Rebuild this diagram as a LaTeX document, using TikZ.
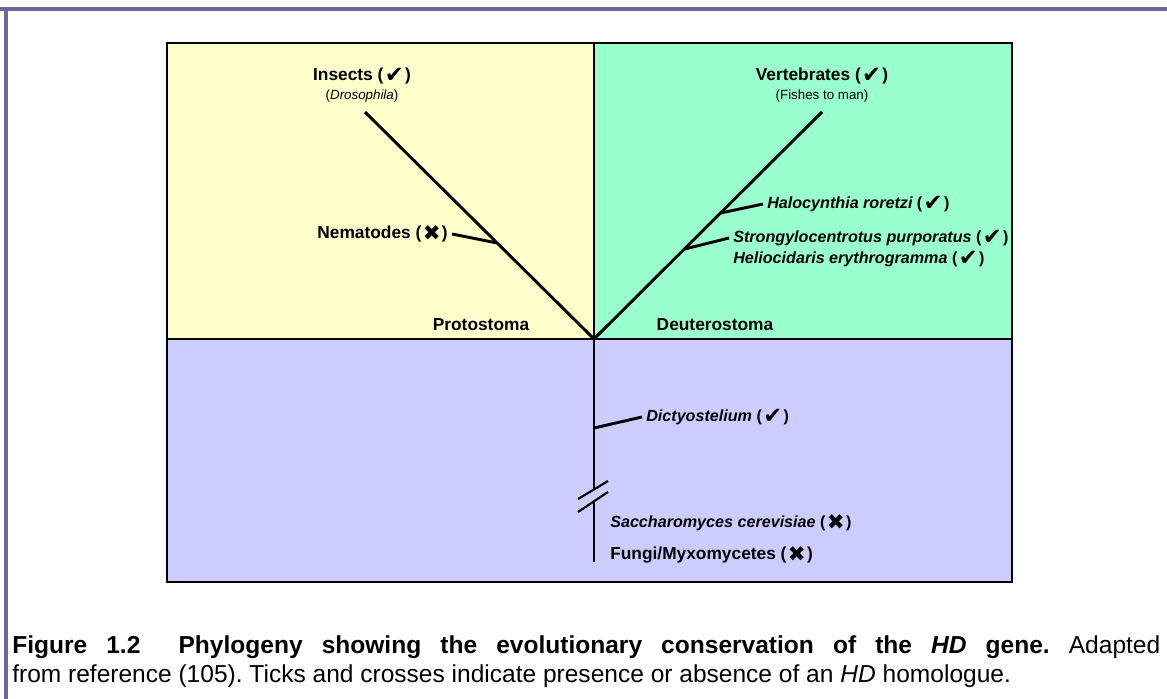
\documentclass[tikz,border=0pt]{standalone}
\usepackage{fontspec}
\setmainfont{Liberation Sans}
\newfontfamily\dingfont{DejaVu Sans}
\usetikzlibrary{calc}

\definecolor{protoyellow}{HTML}{FFFFCC}
\definecolor{deuterogreen}{HTML}{99FFCC}
\definecolor{rootblue}{HTML}{CCCCFF}
\definecolor{framepurple}{HTML}{68689C}
\newcommand{\tickmark}{{\upshape(\kern1pt\raisebox{-1.2pt}{\dingfont\fontsize{17}{17}\selectfont\symbol{"2714}}\kern1pt)}}
\newcommand{\crossmark}{{\upshape(\kern1pt\raisebox{-1.2pt}{\dingfont\fontsize{16}{16}\selectfont\symbol{"2716}}\kern1pt)}}

\begin{document}
\begin{tikzpicture}[x=0.75pt,y=-0.75pt,
    branch/.style={line width=2.2pt},
    taxon/.style={font=\fontsize{13}{15}\selectfont\bfseries,inner sep=3pt},
    species/.style={font=\fontsize{12.1}{15}\selectfont\bfseries\itshape,inner sep=3pt,anchor=west},
    note/.style={font=\fontsize{10}{12}\selectfont,inner sep=1pt}]
\useasboundingbox (0,0) rectangle (1167,699);

\draw[framepurple,line width=3pt] (0,9) -- (1167,9);
\draw[framepurple,line width=3pt] (6,9) -- (6,699);

\fill[protoyellow] (167,43) rectangle (594,339);
\fill[deuterogreen] (594,43) rectangle (1012,339);
\fill[rootblue] (167,339) rectangle (1012,582);
\draw[line width=1.2pt] (167,43) rectangle (1012,582);
\draw[line width=1.2pt] (167,339) -- (1012,339);
\draw[line width=1.2pt] (594,43) -- (594,339);

\coordinate (root) at (594,339);
\coordinate (insTip) at (365,112);
\coordinate (verTip) at (822,112);
\coordinate (nemJoin) at ($(root)!0.423!(insTip)$);
\coordinate (haloJoin) at ($(root)!0.555!(verTip)$);
\coordinate (strongJoin) at ($(root)!0.396!(verTip)$);
\coordinate (dictyJoin) at (594,428);
\coordinate (breakTop) at (594,489);
\coordinate (breakBot) at (594,501);
\coordinate (stemEnd) at (594,562);

\node[taxon] (insects) at (362,76) {Insects \tickmark};
\node[note] (dros) at (362,96) {(\textit{Drosophila})};
\node[taxon] (vert) at (822,76) {Vertebrates \tickmark};
\node[note] (fishes) at (822,96) {(Fishes to man)};
\node[taxon,anchor=east] (nema) at (452,234) {Nematodes \crossmark};
\node[species] (halo) at (763,204) {Halocynthia roretzi \tickmark};
\node[species] (strongy) at (729,238) {Strongylocentrotus purporatus \tickmark};
\node[species] (helio) at (729,259) {Heliocidaris erythrogramma \tickmark};
\node[species] (dicty) at (642,417) {Dictyostelium \tickmark};
\node[species] (sacch) at (606,523) {Saccharomyces cerevisiae \crossmark};
\node[taxon,anchor=west] (fungi) at (606,555) {Fungi/Myxomycetes \crossmark};
\node[taxon] (proto) at (481,325) {Protostoma};
\node[taxon] (deutero) at (715,325) {Deuterostoma};

\draw[branch] (root) -- (insTip);
\draw[branch] (root) -- (verTip);
\draw[branch] (nemJoin) -- (nema.east);
\draw[branch] (haloJoin) -- (halo.west);
\draw[branch] (strongJoin) -- (strongy.west);
\draw[branch] (dictyJoin) -- (dicty.west);
\draw[branch] (root) -- (breakTop);
\draw[branch] (breakBot) -- (stemEnd);
\draw[line width=1.6pt] ($(breakTop)+(-16,10)$) -- ($(breakTop)+(14,-8)$);
\draw[line width=1.6pt] ($(breakBot)+(-16,11)$) -- ($(breakBot)+(14,-9)$);

\node[anchor=north west,text width=861pt,align=justify,inner sep=0pt,
  font=\fontsize{18.4}{21.75}\selectfont\frenchspacing] (caption) at (12,635)
  {\textbf{Figure 1.2\ \ Phylogeny showing the evolutionary conservation of the \textit{HD} gene.} Adapted\linebreak
  from reference (105). Ticks and crosses indicate presence or absence of an \textit{HD} homologue.};
\end{tikzpicture}
\end{document}
